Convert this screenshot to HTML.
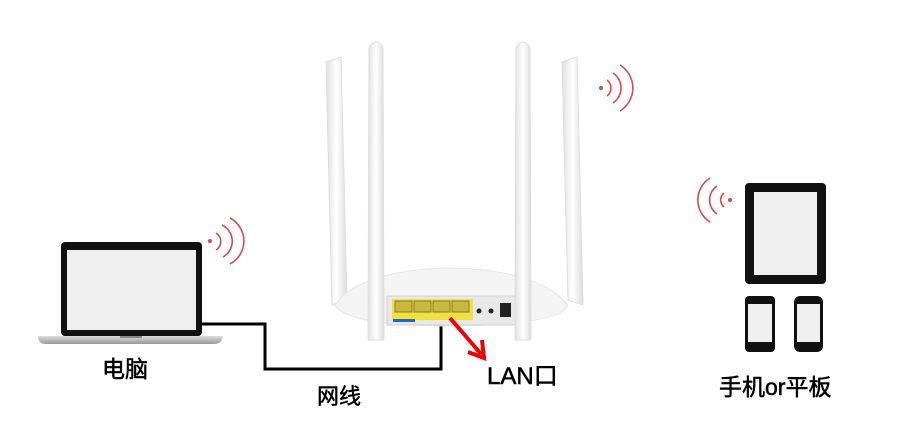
<!DOCTYPE html>
<html><head><meta charset="utf-8"><style>
body{margin:0;background:#fff;}
svg{display:block}
text{font-family:"Liberation Sans","Noto Sans CJK SC",sans-serif;fill:#000}
</style></head><body>
<svg width="900" height="448" viewBox="0 0 900 448">
<defs>
<linearGradient id="ant" x1="0" x2="1"><stop offset="0" stop-color="#e0e0e0"/><stop offset=".5" stop-color="#fff"/><stop offset="1" stop-color="#dcdcdc"/></linearGradient>
<linearGradient id="base" x1="0" x2="0" y1="0" y2="1"><stop offset="0" stop-color="#ddd"/><stop offset="1" stop-color="#999"/></linearGradient>
</defs>
<rect x="61" y="242" width="141" height="94" rx="4" fill="#111"/>
<rect x="67" y="250" width="129" height="80" fill="#efefef"/>
<path d="M38 336 H223 Q222 344 214 344 H46 Q38 344 38 336Z" fill="url(#base)"/>
<rect x="120" y="336" width="22" height="2" fill="#888"/>
<g fill="none" stroke="#d9494f" stroke-width="1.6">
<circle cx="210" cy="241" r="1.2" fill="#d9494f"/>
<path d="M216 233 A10 10 0 0 1 216 250"/>
<path d="M222 225 A18 18 0 0 1 223 257"/>
<path d="M230 218 A26 26 0 0 1 230 264"/>
</g>
<polyline points="202,324 265,324 265,369 441,369 441,316" fill="none" stroke="#000" stroke-width="3"/>
<path d="M326 62 L341 57 L347 300 L332 305 Z" fill="url(#ant)" stroke="#ddd"/>
<path d="M562 62 L577 57 L583 305 L568 300 Z" fill="url(#ant)" stroke="#ddd"/>
<path d="M335 305 Q360 270 450 268 Q540 270 568 305 Q560 325 450 326 Q345 325 335 305Z" fill="#f4f4f4" stroke="#e4e4e4"/>
<rect x="387" y="296" width="140" height="29" fill="#e8e8e8" stroke="#d0d0d0"/>
<rect x="392" y="299" width="81" height="21" fill="#f0e040"/>
<g fill="#c8b840" stroke="#8a7a20" stroke-width="1">
<rect x="395" y="301" width="17" height="11"/><rect x="414" y="301" width="17" height="11"/><rect x="433" y="301" width="17" height="11"/><rect x="452" y="301" width="17" height="11"/>
</g>
<rect x="393" y="319" width="22" height="3" fill="#2a5fd0"/>
<circle cx="479" cy="311" r="2.5" fill="#222"/><circle cx="491" cy="311" r="2.5" fill="#222"/>
<rect x="500" y="303" width="11" height="14" fill="#222"/>
<path d="M369 48 Q376 36 383 48 L384 340 L368 340 Z" fill="url(#ant)" stroke="#ddd"/>
<path d="M516 48 Q523 36 530 48 L531 340 L515 340 Z" fill="url(#ant)" stroke="#ddd"/>
<line x1="450" y1="318" x2="481" y2="354" stroke="#e00" stroke-width="4"/>
<polyline points="468,352 484,358 482,340" fill="none" stroke="#e00" stroke-width="4"/>
<g fill="none" stroke="#d9494f" stroke-width="1.6">
<circle cx="601" cy="88" r="1.2" fill="#d9494f"/>
<path d="M607 80 A10 10 0 0 1 607 96"/>
<path d="M613 73 A18 18 0 0 1 613 103"/>
<path d="M620 65 A27 27 0 0 1 620 111"/>
</g>
<rect x="745" y="183" width="81" height="101" rx="4" fill="#111"/>
<rect x="754" y="192" width="63" height="83" fill="#efefef"/>
<rect x="745" y="296" width="30" height="56" rx="4" fill="#111"/>
<rect x="748" y="304" width="24" height="38" fill="#efefef"/>
<rect x="794" y="296" width="29" height="56" rx="6" fill="#111"/>
<rect x="797" y="304" width="23" height="38" fill="#efefef"/>
<g fill="none" stroke="#d9494f" stroke-width="1.6">
<circle cx="730" cy="200" r="1.2" fill="#d9494f"/>
<path d="M724 193 A9 9 0 0 0 724 207"/>
<path d="M717 186 A17 17 0 0 0 717 214"/>
<path d="M710 178 A26 26 0 0 0 710 222"/>
</g>
<g stroke="#000" stroke-width="0.5">
<text x="102" y="377" font-size="23">电脑</text>
<text x="317" y="404" font-size="22">网线</text>
<text x="487" y="384" font-size="24">LAN口</text>
<text x="719" y="395" font-size="23">手机or平板</text>
</g>
</svg>
</body></html>
